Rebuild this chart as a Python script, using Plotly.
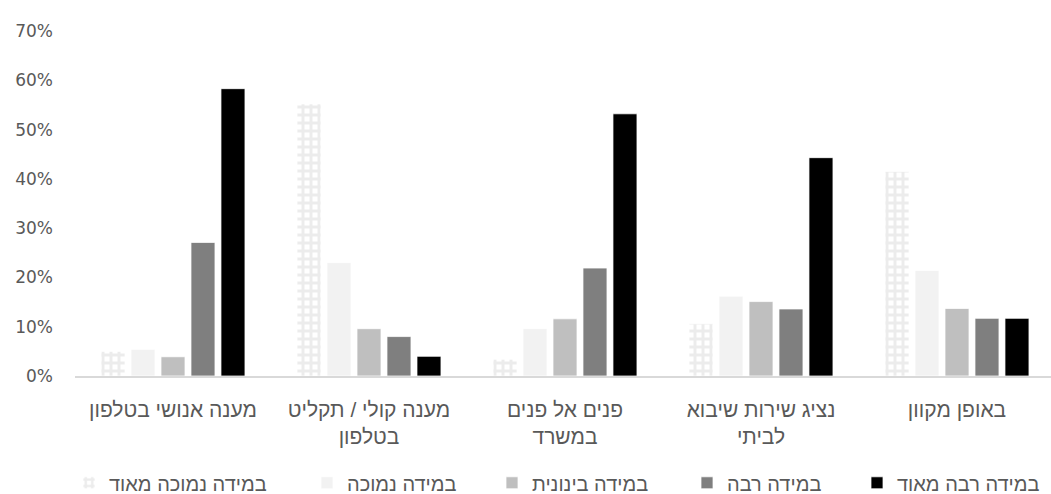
import plotly.graph_objects as go

categories = [
    "מענה אנושי בטלפון",
    "מענה קולי / תקליט<br>בטלפון",
    "פנים אל פנים<br>במשרד",
    "נציג שירות שיבוא<br>לביתי",
    "באופן מקוון",
]

series_names = [
    "במידה נמוכה מאוד",
    "במידה נמוכה",
    "במידה בינונית",
    "במידה רבה",
    "במידה רבה מאוד",
]

very_low = [0.050, 0.552, 0.034, 0.106, 0.415]
low = [0.054, 0.230, 0.096, 0.162, 0.214]
medium = [0.039, 0.096, 0.116, 0.151, 0.137]
high = [0.271, 0.080, 0.219, 0.136, 0.117]
very_high = [0.583, 0.040, 0.532, 0.443, 0.117]

y_ticks = [0, 0.1, 0.2, 0.3, 0.4, 0.5, 0.6, 0.7]

series_values = [very_low, low, medium, high, very_high]
fill_colors = ["#ffffff", "#f2f2f2", "#bfbfbf", "#7f7f7f", "#000000"]
legend_ids = ["legend", "legend2", "legend3", "legend4", "legend5"]
# left edge of each legend block, in pixels (the first one is shifted via indentation)
legend_px = [75, 307, 492, 687, 857]
legend_indent = [-6, 0, 0, 0, 0]

HEB_FONT = "Liberation Sans, Arial, sans-serif"
NUM_FONT = "DejaVu Sans, sans-serif"
TEXT = "#595959"
L_MARGIN, R_MARGIN = 75, 0
WIDTH, HEIGHT = 1051, 494
plot_w = WIDTH - L_MARGIN - R_MARGIN

fig = go.Figure()
for i, (name, vals) in enumerate(zip(series_names, series_values)):
    marker = dict(color=fill_colors[i], line=dict(color="#ffffff", width=0.75))
    if i == 0:
        marker["pattern"] = dict(shape="+", fgcolor="#d9d9d9", bgcolor="#ffffff",
                                 size=8, solidity=0.6, fillmode="overlay")
    fig.add_trace(go.Bar(x=categories, y=vals, name=name, marker=marker,
                         legend=legend_ids[i], showlegend=True))

layout_legends = {}
for i, lid in enumerate(legend_ids):
    layout_legends[lid] = dict(
        orientation="h", x=(legend_px[i] - L_MARGIN) / plot_w, xanchor="left",
        y=-0.253, yanchor="top", font=dict(family=HEB_FONT, size=20, color=TEXT),
        bgcolor="rgba(0,0,0,0)", itemwidth=30, indentation=legend_indent[i],
        visible=True,
    )

fig.update_layout(
    width=WIDTH, height=HEIGHT,
    showlegend=True,
    margin=dict(l=L_MARGIN, r=R_MARGIN, t=31, b=118, autoexpand=False),
    paper_bgcolor="white", plot_bgcolor="white",
    barmode="group", bargap=0.235, bargroupgap=0.2,
    font=dict(family=HEB_FONT, size=20, color=TEXT),
    **layout_legends,
)
fig.update_xaxes(
    range=[-0.5, -0.5 + plot_w / 196.0],
    showgrid=False, showline=True, linecolor="#d9d9d9", linewidth=1.5,
    ticks="", tickfont=dict(family=HEB_FONT, size=21, color=TEXT),
    ticklabelstandoff=14,
)
fig.update_yaxes(
    range=[0, 0.7], tickvals=y_ticks, tickformat=".0%",
    showgrid=False, zeroline=False, showline=False, ticks="",
    tickfont=dict(family=NUM_FONT, size=17, color=TEXT), ticklabelstandoff=21,
)

fig.write_html("out.html")
